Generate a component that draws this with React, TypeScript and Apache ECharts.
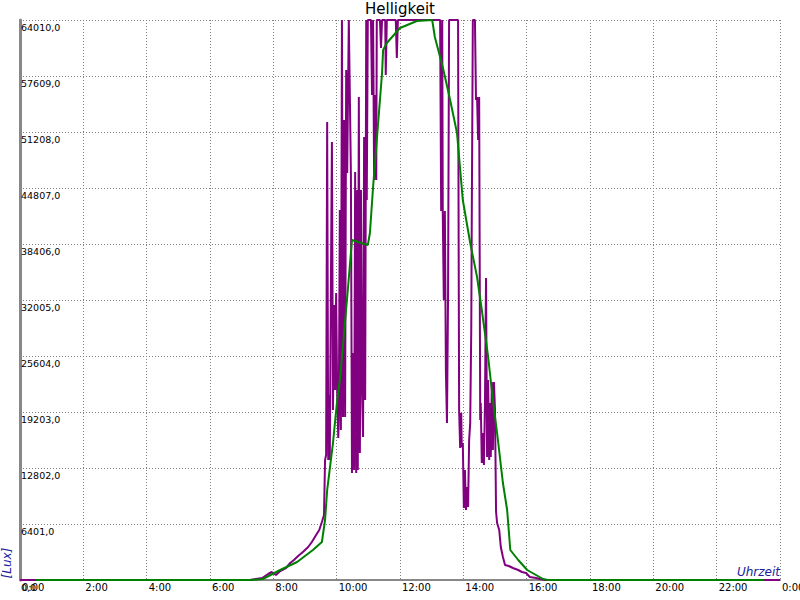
import React, { useEffect, useRef } from "react";
import * as echarts from "echarts";

// time in minutes since midnight, brightness in lux
const purpleTime = [
  0, 436, 459, 470, 477, 485, 493, 504, 512, 519, 527, 536, 546, 553, 561, 567, 572, 576,
  578, 580, 582, 584, 586, 587, 589, 591, 593, 595, 597, 599, 601, 603, 604, 606, 608, 610,
  612, 614, 616, 618, 620, 621, 623, 625, 627, 629, 631, 633, 635, 637, 639, 640, 642, 644,
  646, 648, 650, 652, 654, 656, 657, 659, 665, 667, 669, 671, 673, 675, 676, 682, 684, 686,
  692, 693, 695, 712, 714, 716, 796, 798, 800, 801, 803, 805, 807, 809, 811, 813, 830, 832,
  834, 836, 837, 839, 841, 843, 845, 847, 849, 851, 853, 855, 856, 858, 862, 864, 866, 868,
  870, 872, 873, 875, 877, 879, 881, 883, 885, 887, 889, 891, 892, 894, 896, 898, 900, 902,
  904, 908, 911, 915, 919, 926, 934, 944, 951, 959, 966, 978, 985, 995, 1440,
];
const purpleLux = [
  0, 0, 229, 686, 914, 572, 1029, 1372, 1943, 2286, 2743, 3200, 3772, 4343, 5144, 5715, 6629, 7430,
  13716, 14288, 52350, 13716, 21146, 13716, 33147, 50063, 19431, 31433, 21717, 32804, 21374, 16231, 18288, 42291, 17145, 64010,
  18631, 52578, 18631, 58293, 46520, 52578, 64010, 55207, 46291, 12230, 25946, 12573, 46634, 12230, 44577, 12573, 55207, 14516,
  44577, 22060, 16345, 50635, 20574, 64010, 43434, 64010, 64010, 55436, 64010, 45720, 55436, 45720, 64010, 64010, 60808, 64010,
  64010, 57722, 64010, 64010, 59665, 64010, 64010, 42177, 64010, 42177, 32004, 42177, 23774, 17945, 32004, 64010, 64010, 19431,
  15088, 19088, 15202, 15659, 8230, 12573, 8001, 10630, 8344, 16002, 17945, 28575, 41377, 64010, 64010, 54864, 55207, 50292,
  55207, 18288, 20231, 13373, 16802, 13145, 20231, 34519, 14059, 22860, 13716, 20231, 14059, 22631, 14859, 22631, 19431, 7772,
  6515, 5715, 3772, 2629, 1715, 1600, 1372, 1143, 914, 800, 343, 229, 114, 0, 0,
];

const greenTime = [
  30, 436, 460, 493, 525, 555, 572, 578, 582, 593, 601, 606, 610, 620, 629, 659, 663, 669, 678, 686,
  688, 695, 720, 752, 781, 786, 796, 801, 815, 828, 839, 853, 866, 875, 887, 896, 904, 915, 923, 929,
  944, 961, 991, 1000, 1410,
];
const greenLux = [
  0, 0, 114, 1143, 2057, 3429, 4343, 6858, 10287, 15659, 20574, 22860, 25489, 32347, 38862, 38291, 39662, 44920, 51778, 57950,
  60580, 61379, 63094, 63896, 64010, 62066, 59779, 58636, 54864, 51092, 43434, 38519, 34633, 30861, 25489, 20574, 16802, 11087, 8001, 3429,
  2286, 1143, 114, 0, 0,
];

const yMax = 64010;
const yStep = 6401;
const xMax = 1440;
const xStep = 120;

const TITLE = "Helligkeit";
const Y_NAME = "[Lux]";
const X_NAME = "Uhrzeit";

export default function App() {
  const ref = useRef<HTMLDivElement>(null);
  useEffect(() => {
    if (!ref.current) return;
    const chart = echarts.init(ref.current, undefined, { renderer: "svg" });
    const font = "DejaVu Sans";
    const purple = purpleTime.map((t, i) => [t, purpleLux[i]]);
    const green = greenTime.map((t, i) => [t, greenLux[i]]);
    chart.setOption({
      animation: false,
      backgroundColor: "#ffffff",
      title: {
        text: TITLE,
        left: "center",
        top: 0,
        padding: [1, 0, 0, 0],
        textStyle: { fontFamily: font, fontSize: 15, fontWeight: "normal", color: "#000" },
      },
      grid: {
        left: 20,
        right: 20,
        top: 20,
        bottom: 20,
        containLabel: false,
        outerBoundsMode: "none",
      },
      xAxis: {
        type: "value",
        min: 0,
        max: xMax,
        interval: xStep,
        axisLine: { show: true, lineStyle: { color: "#888888", width: 2 } },
        axisTick: { show: false },
        splitLine: { show: true, lineStyle: { color: "#808080", type: [1, 2], width: 1 } },
        axisLabel: {
          fontFamily: font,
          fontSize: 10,
          color: "#000",
          align: "left",
          verticalAlign: "top",
          margin: 2,
          padding: [0, 0, 0, 2],
          showMaxLabel: true,
          showMinLabel: true,
          hideOverlap: false,
          formatter: (v: number) => `${Math.round(v / 60) % 24}:00`,
        },
      },
      yAxis: {
        type: "value",
        min: 0,
        max: yMax,
        interval: yStep,
        axisLine: { show: true, lineStyle: { color: "#888888", width: 3 } },
        axisTick: { show: false },
        splitLine: { show: true, lineStyle: { color: "#808080", type: [1, 2], width: 1 } },
        axisLabel: {
          inside: true,
          fontFamily: font,
          fontSize: 9.5,
          color: "#000",
          align: "left",
          verticalAlign: "top",
          margin: 1,
          padding: [2, 0, 0, 0],
          showMaxLabel: true,
          showMinLabel: true,
          hideOverlap: false,
          formatter: (v: number) => v.toFixed(1).replace(".", ","),
        },
      },
      graphic: [
        {
          type: "text",
          x: 7,
          y: 563,
          rotation: Math.PI / 2,
          style: {
            text: Y_NAME,
            fontFamily: font,
            fontSize: 12,
            fontStyle: "italic",
            fill: "#2020a0",
            align: "center",
            verticalAlign: "middle",
          },
        },
        {
          type: "text",
          x: 780,
          y: 578,
          style: {
            text: X_NAME,
            fontFamily: font,
            fontSize: 12,
            fontStyle: "italic",
            fill: "#2020a0",
            align: "right",
            verticalAlign: "bottom",
          },
        },
      ],
      series: [
        {
          type: "line",
          data: purple,
          showSymbol: false,
          symbol: "none",
          lineStyle: { color: "#800080", width: 2 },
          z: 2,
        },
        {
          type: "line",
          data: green,
          showSymbol: false,
          symbol: "none",
          lineStyle: { color: "#008000", width: 2 },
          z: 3,
        },
      ],
    });
    return () => chart.dispose();
  }, []);
  return (
    <div
      ref={ref}
      style={{ position: "absolute", left: 0, top: 0, width: 800, height: 600 }}
    />
  );
}
